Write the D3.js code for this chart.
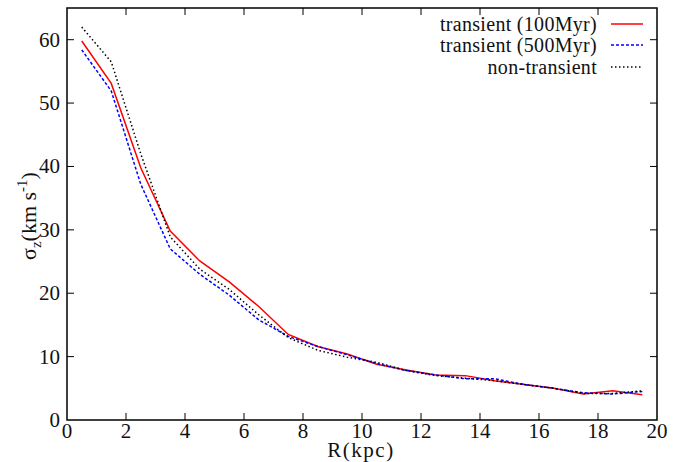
<!DOCTYPE html>
<html><head><meta charset="utf-8">
<script src="https://cdn.jsdelivr.net/npm/d3@7"></script>
<style>body{margin:0;background:#fff}text{font-family:"Liberation Serif","DejaVu Serif",serif;fill:#111}</style>
</head><body><svg id="c" width="688" height="462"></svg>
<script>
const radii = [0.5,1.5,2.5,3.5,4.5,5.5,6.5,7.5,8.5,9.5,10.5,11.5,12.5,13.5,14.5,15.5,16.5,17.5,18.5,19.5];
const transient100 = [59.8,53.1,39.8,29.8,25.1,21.8,17.9,13.5,11.6,10.4,8.8,7.9,7.1,7.0,6.2,5.6,5.0,4.1,4.6,4.0];
const transient500 = [58.4,51.9,37.2,27.0,23.0,19.7,15.8,13.2,11.6,10.3,8.9,7.8,7.1,6.5,6.5,5.6,5.0,4.3,4.1,4.5];
const nonTransient = [62.0,56.5,42.0,28.9,23.8,20.6,16.6,13.0,11.0,9.9,9.1,7.8,7.0,6.6,6.2,5.6,5.0,4.2,4.2,4.6];
const xTicks = [0,2,4,6,8,10,12,14,16,18,20];
const yTicks = [0,10,20,30,40,50,60];
const seriesNames = ["transient (100Myr)","transient (500Myr)","non-transient"];

const svg = d3.select("#c");
const L=67,R=657,T=8,B=420;
const x = d3.scaleLinear().domain([0,20]).range([L,R]);
const y = d3.scaleLinear().domain([0,65]).range([B,T]);
const fs = 21;

const tl = 7;
const g = svg.append("g");
xTicks.forEach(v=>{
  if(v>0 && v<20){
    g.append("line").attr("x1",x(v)).attr("x2",x(v)).attr("y1",B).attr("y2",B-tl).attr("stroke","#000").attr("stroke-width",1);
    g.append("line").attr("x1",x(v)).attr("x2",x(v)).attr("y1",T).attr("y2",T+tl).attr("stroke","#000").attr("stroke-width",1);
  }
  g.append("text").attr("x",x(v)).attr("y",B+18).attr("text-anchor","middle").attr("font-size",fs).text(v);
});
yTicks.forEach(v=>{
  if(v>0){
    g.append("line").attr("x1",L).attr("x2",L+tl).attr("y1",y(v)).attr("y2",y(v)).attr("stroke","#000").attr("stroke-width",1);
    g.append("line").attr("x1",R).attr("x2",R-tl).attr("y1",y(v)).attr("y2",y(v)).attr("stroke","#000").attr("stroke-width",1);
  }
  g.append("text").attr("x",L-7).attr("y",y(v)+7).attr("text-anchor","end").attr("font-size",fs).text(v);
});

const line = d3.line().x((d,i)=>x(radii[i])).y(d=>y(d));
const styles = [
  {data:transient100,color:"#ff0000",dash:null},
  {data:transient500,color:"#0000ff",dash:"3,2"},
  {data:nonTransient,color:"#000000",dash:"1.5,2.5"}
];
styles.forEach(s=>{
  svg.append("path").datum(s.data).attr("d",line).attr("fill","none")
    .attr("stroke",s.color).attr("stroke-width",1.5).attr("stroke-dasharray",s.dash);
});

svg.append("rect").attr("x",L).attr("y",T).attr("width",R-L).attr("height",B-T)
  .attr("fill","none").attr("stroke","#000").attr("stroke-width",1.5);

const ly = [24,45,67];
seriesNames.forEach((n,i)=>{
  svg.append("text").attr("x",597).attr("y",ly[i]+7).attr("text-anchor","end").attr("font-size",20).attr("letter-spacing",0.3).text(n);
  svg.append("line").attr("x1",611).attr("x2",643).attr("y1",ly[i]).attr("y2",ly[i])
    .attr("stroke",styles[i].color).attr("stroke-width",1.5).attr("stroke-dasharray",styles[i].dash);
});

svg.append("text").attr("x",361).attr("y",457).attr("text-anchor","middle").attr("font-size",21).attr("letter-spacing",1.5).text("R(kpc)");
const yl = svg.append("text").attr("transform","translate(36,216) rotate(-90)").attr("text-anchor","middle").attr("font-size",22);
yl.append("tspan").text("σ");
yl.append("tspan").attr("font-size",15).attr("dy",5).text("z");
yl.append("tspan").attr("dy",-5).text("(km s");
yl.append("tspan").attr("font-size",15).attr("dy",-9).text("-1");
yl.append("tspan").attr("dy",9).text(")");
</script></body></html>
